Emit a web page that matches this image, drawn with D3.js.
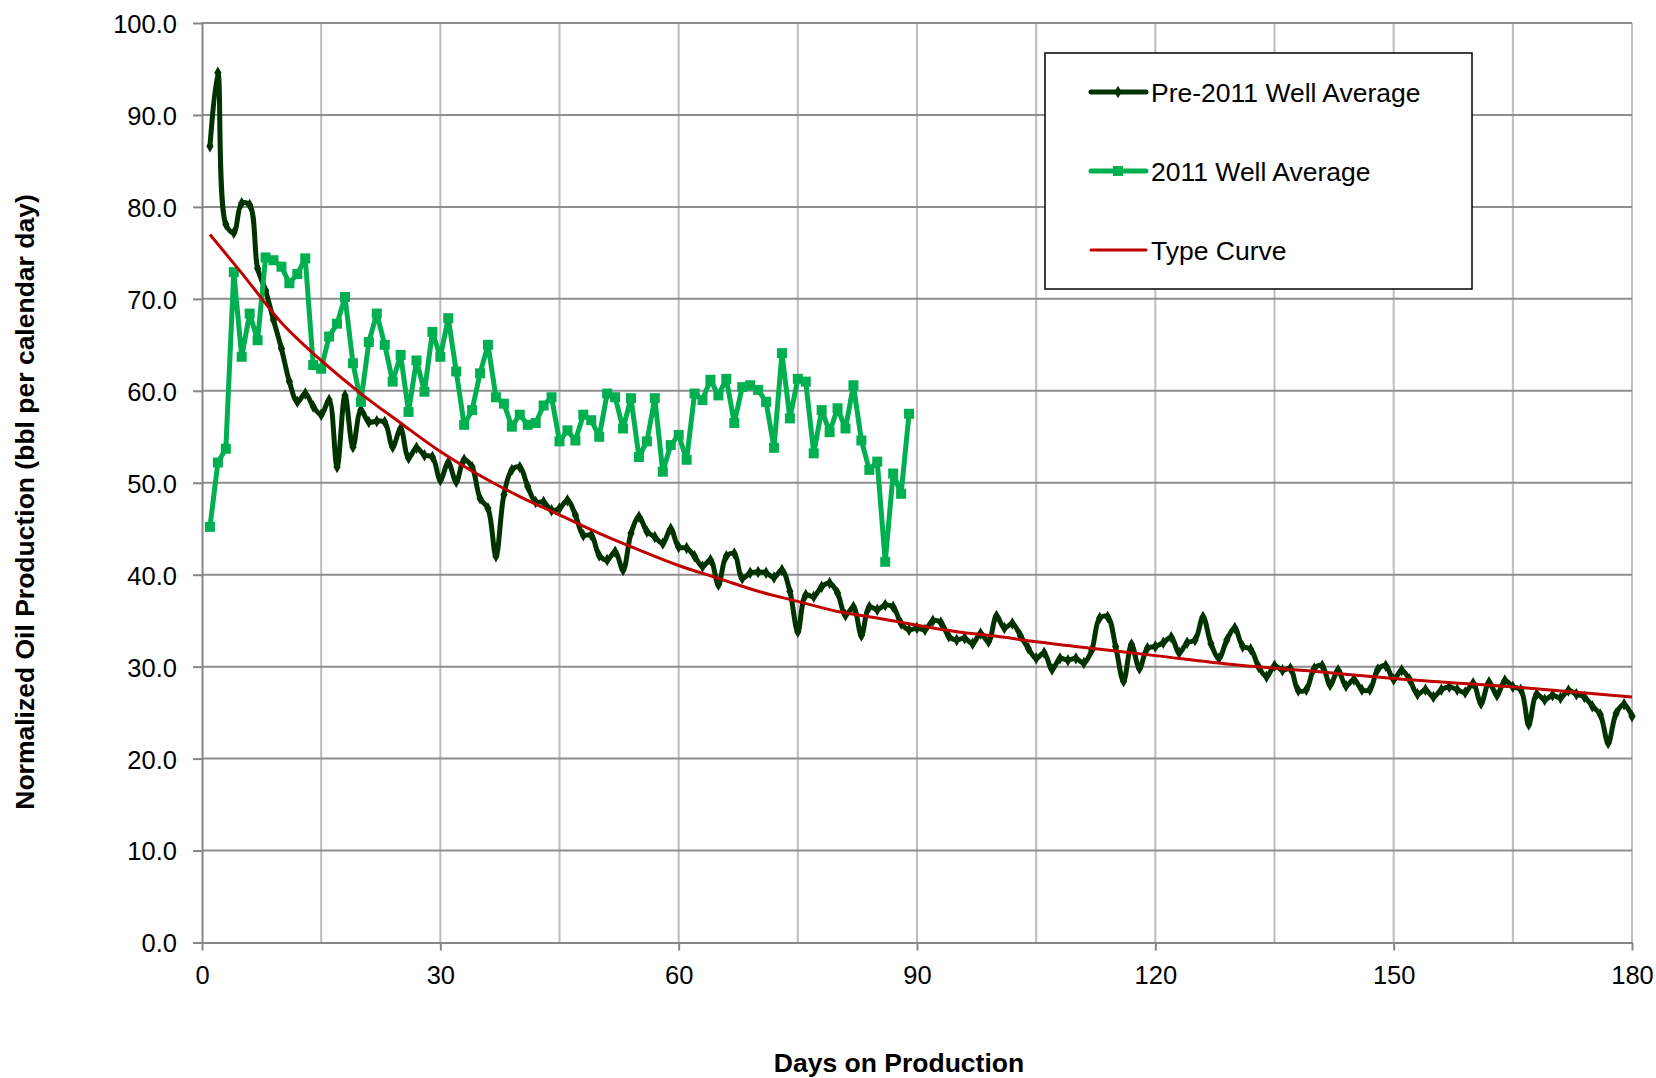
<!DOCTYPE html>
<html>
<head>
<meta charset="utf-8">
<script src="https://cdn.jsdelivr.net/npm/d3@7"></script>
<style>
  body { margin: 0; background: #fff; }
  svg { display: block; font-family: "Liberation Sans", Arial, sans-serif; }
</style>
</head>
<body>
<svg id="chart" width="1656" height="1078"></svg>
<script>
// daily averages, day 1 onwards
const pre2011 = [
  86.6, 94.6, 78.1, 77.2, 80.4, 80.2, 73.3, 70.9, 67.7, 64.6,
  61.0, 58.8, 59.7, 58.3, 57.4, 59.0, 51.7, 59.5, 53.9, 57.9,
  56.6, 56.7, 56.6, 53.9, 55.9, 52.7, 53.8, 53.0, 52.8, 50.3,
  52.2, 50.1, 52.5, 51.7, 48.3, 47.2, 42.0, 48.7, 51.4, 51.7,
  49.6, 47.9, 47.9, 47.0, 47.2, 48.1, 46.5, 44.3, 44.3, 42.1,
  41.6, 42.5, 40.5, 44.5, 46.3, 44.7, 44.1, 43.4, 45.0, 43.0,
  42.9, 42.0, 40.9, 41.6, 38.9, 42.0, 42.3, 39.6, 40.2, 40.3,
  40.2, 39.7, 40.5, 38.2, 33.8, 37.8, 37.6, 38.7, 39.1, 38.0,
  35.6, 36.5, 33.4, 36.5, 36.2, 36.7, 36.5, 34.7, 34.0, 34.2,
  34.0, 35.0, 34.8, 33.3, 32.9, 33.1, 32.5, 33.6, 32.7, 35.5,
  34.2, 34.7, 33.4, 32.0, 30.9, 31.5, 29.7, 30.9, 30.7, 30.9,
  30.4, 31.8, 35.3, 35.4, 32.2, 28.4, 32.4, 29.8, 32.0, 32.2,
  32.6, 33.2, 31.5, 32.6, 32.9, 35.4, 32.5, 30.9, 32.9, 34.2,
  32.2, 31.9, 30.0, 28.9, 30.1, 29.6, 29.8, 27.4, 27.5, 29.8,
  30.1, 28.0, 29.6, 27.9, 28.6, 27.5, 27.5, 29.7, 30.1, 28.6,
  29.6, 28.6, 27.0, 27.5, 26.7, 27.5, 27.8, 27.5, 27.2, 28.2,
  26.0, 28.3, 26.9, 28.5, 27.8, 27.5, 23.7, 27.0, 26.4, 26.9,
  26.6, 27.4, 27.0, 26.7, 25.7, 24.8, 21.7, 24.9, 25.9, 24.6
];

const wells2011 = [
  45.2, 52.2, 53.7, 72.9, 63.7, 68.4, 65.5, 74.5, 74.2, 73.5,
  71.7, 72.7, 74.4, 62.8, 62.4, 65.9, 67.3, 70.2, 63.0, 58.8,
  65.3, 68.4, 65.0, 61.0, 63.9, 57.7, 63.3, 59.9, 66.4, 63.7,
  67.9, 62.1, 56.3, 57.9, 61.9, 65.0, 59.3, 58.6, 56.1, 57.4,
  56.3, 56.5, 58.4, 59.3, 54.5, 55.7, 54.6, 57.4, 56.8, 55.0,
  59.7, 59.3, 55.9, 59.2, 52.8, 54.5, 59.2, 51.2, 54.1, 55.2,
  52.5, 59.7, 59.0, 61.2, 59.5, 61.3, 56.5, 60.4, 60.6, 60.1,
  58.8, 53.8, 64.1, 57.0, 61.3, 61.0, 53.2, 57.9, 55.5, 58.1,
  55.9, 60.6, 54.6, 51.4, 52.3, 41.4, 51.0, 48.8, 57.5
];

// type curve at a few days
const typeDays = [1, 5, 10, 15, 20, 25, 30, 36, 40, 45, 50, 55, 60, 65, 70, 75,
                  80, 85, 90, 95, 100, 105, 110, 120, 130, 140, 150, 165, 180];
const typeVals = [77.0, 72.8, 67.4, 63.3, 59.7, 56.5, 53.4, 50.3, 48.5, 46.5, 44.5, 42.7,
                  41.0, 39.6, 38.2, 37.1, 36.0, 35.3, 34.5, 33.8, 33.3, 32.7, 32.2, 31.2,
                  30.2, 29.5, 28.7, 27.8, 26.7];

const xTicks = [0, 30, 60, 90, 120, 150, 180];
const xGrid = d3.range(15, 181, 15);
const yTicks = d3.range(0, 101, 10);

const seriesNames = ["Pre-2011 Well Average", "2011 Well Average", "Type Curve"];
const colors = ["#003300", "#00b050", "#c00000"];

const svg = d3.select("svg#chart");

const x = d3.scaleLinear().domain([0, 180]).range([202, 1632]);
const y = d3.scaleLinear().domain([0, 100]).range([942.5, 23]);

// gridlines
svg.append("g")
  .selectAll("line")
  .data(xGrid)
  .join("line")
  .attr("x1", d => x(d)).attr("x2", d => x(d))
  .attr("y1", y(0)).attr("y2", y(100))
  .style("stroke", "#bdbdbd")
  .style("stroke-width", 2);

svg.append("g")
  .selectAll("line")
  .data(yTicks.filter(d => d > 0))
  .join("line")
  .attr("x1", x(0)).attr("x2", x(180))
  .attr("y1", d => y(d)).attr("y2", d => y(d))
  .style("stroke", "#8e8e8e")
  .style("stroke-width", 2);

// axes
const yAxis = svg.append("g")
  .attr("transform", translate(x(0), 0))
  .call(d3.axisLeft(y).tickValues(yTicks).tickFormat(d3.format(".1f"))
          .tickSize(9).tickSizeOuter(0).tickPadding(16));

const xAxis = svg.append("g")
  .attr("transform", translate(0, y(0)))
  .call(d3.axisBottom(x).tickValues(xTicks).tickSize(8).tickSizeOuter(0).tickPadding(15));

[yAxis, xAxis].forEach(function(g) {
  g.select(".domain").style("stroke", "#868686").style("stroke-width", 2);
  g.selectAll(".tick line").style("stroke", "#868686").style("stroke-width", 2);
  g.selectAll("text")
    .style("font-size", "25.5px")
    .style("font-family", "Liberation Sans, Arial, sans-serif")
    .style("fill", "#000");
});
yAxis.selectAll("text").attr("dy", "0.37em");

// lines
const preData = pre2011.map((v, i) => ({day: i + 1, value: v}));
const newData = wells2011.map((v, i) => ({day: i + 1, value: v}));
const typeData = typeDays.map((d, i) => ({day: d, value: typeVals[i]}));

const smoothLine = d3.line()
  .x(d => x(d.day)).y(d => y(d.value))
  .curve(d3.curveCatmullRom.alpha(0.5));

const straightLine = d3.line()
  .x(d => x(d.day)).y(d => y(d.value));

const typeLine = d3.line()
  .x(d => x(d.day)).y(d => y(d.value))
  .curve(d3.curveMonotoneX);

svg.append("path")
  .datum(preData)
  .attr("d", smoothLine)
  .style("fill", "none")
  .style("stroke", colors[0])
  .style("stroke-width", 5)
  .style("stroke-linejoin", "round");

svg.append("g")
  .selectAll("path")
  .data(preData)
  .join("path")
  .attr("transform", d => translate(x(d.day), y(d.value)))
  .attr("d", d3.symbol(d3.symbolDiamond, 45))
  .style("fill", colors[0]);

svg.append("path")
  .datum(newData)
  .attr("d", straightLine)
  .style("fill", "none")
  .style("stroke", colors[1])
  .style("stroke-width", 5)
  .style("stroke-linejoin", "round");

svg.append("g")
  .selectAll("rect")
  .data(newData)
  .join("rect")
  .attr("x", d => x(d.day) - 5)
  .attr("y", d => y(d.value) - 5)
  .attr("width", 10)
  .attr("height", 10)
  .style("fill", colors[1]);

svg.append("path")
  .datum(typeData)
  .attr("d", typeLine)
  .style("fill", "none")
  .style("stroke", colors[2])
  .style("stroke-width", 3);

// legend
const legend = svg.append("g").attr("transform", translate(1045, 53));

legend.append("rect")
  .attr("width", 427)
  .attr("height", 236)
  .style("fill", "#fff")
  .style("stroke", "#000")
  .style("stroke-width", 1.5);

const rows = legend.selectAll("g.row")
  .data(seriesNames)
  .join("g")
  .attr("class", "row")
  .attr("transform", (d, i) => translate(0, 39 + i * 79));

rows.append("line")
  .attr("x1", 46).attr("x2", 101)
  .style("stroke", (d, i) => colors[i])
  .style("stroke-width", (d, i) => i == 2 ? 3 : 5)
  .style("stroke-linecap", "round");

rows.filter((d, i) => i == 0).append("path")
  .attr("transform", translate(73, 0))
  .attr("d", d3.symbol(d3.symbolDiamond, 45))
  .style("fill", colors[0]);

rows.filter((d, i) => i == 1).append("rect")
  .attr("x", 68).attr("y", -5)
  .attr("width", 10).attr("height", 10)
  .style("fill", colors[1]);

rows.append("text")
  .attr("x", 106)
  .attr("dy", "0.36em")
  .style("font-size", "26.5px")
  .text(d => d);

// axis titles
svg.append("text")
  .attr("transform", "translate(34,502) rotate(-90)")
  .attr("text-anchor", "middle")
  .style("font-size", "26.5px")
  .style("font-weight", "bold")
  .text("Normalized Oil Production (bbl per calendar day)");

svg.append("text")
  .attr("x", 899)
  .attr("y", 1072)
  .attr("text-anchor", "middle")
  .style("font-size", "26.5px")
  .style("font-weight", "bold")
  .text("Days on Production");

function translate(x, y) {
  return 'translate(' + x + ',' + y + ')';
}
</script>
</body>
</html>
